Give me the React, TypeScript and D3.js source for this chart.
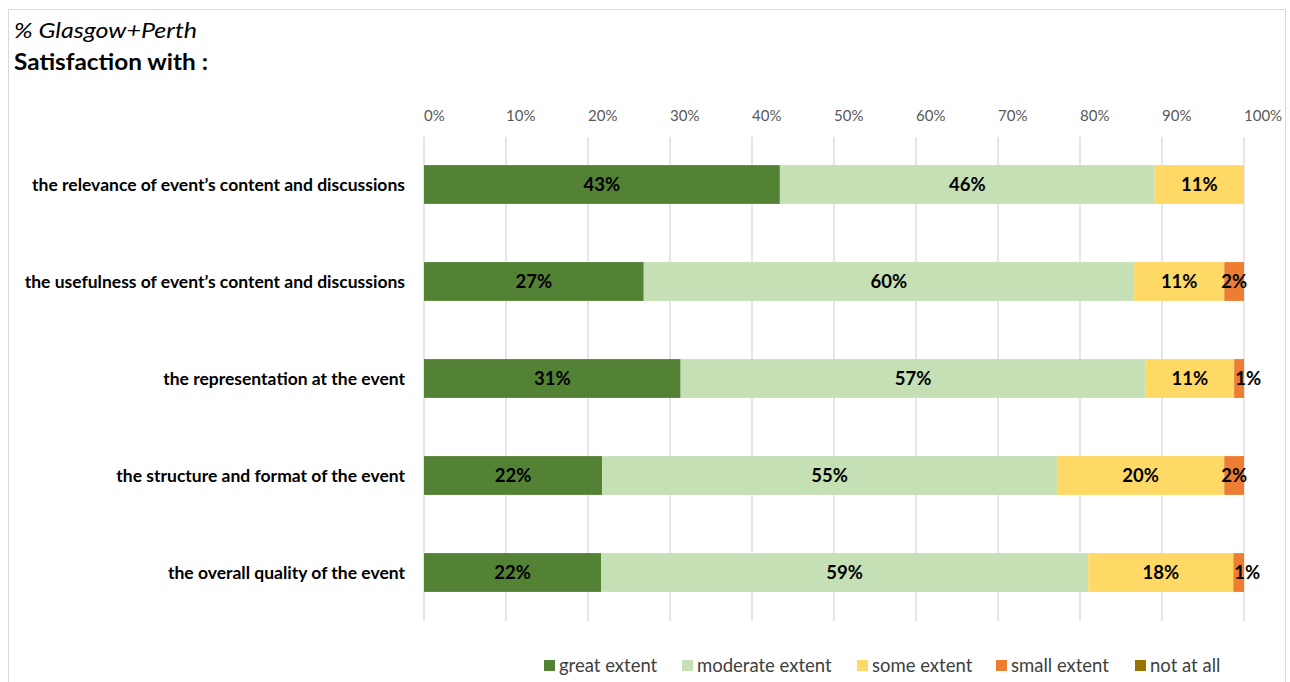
import React from "react";
import * as d3 from "d3";

const categories = [
  "the relevance of event\u2019s content and discussions",
  "the usefulness of event\u2019s content and discussions",
  "the representation at the event",
  "the structure and format of the event",
  "the overall quality of the event",
];
const seriesNames = ["great extent", "moderate extent", "some extent", "small extent", "not at all"];
const greatExtent = [43.4, 26.8, 31.3, 21.7, 21.6];
const moderateExtent = [45.7, 59.8, 56.7, 55.4, 59.4];
const someExtent = [10.9, 11.0, 10.8, 20.4, 17.7];
const smallExtent = [0, 2.4, 1.2, 2.4, 1.3];
const notAtAll = [0, 0, 0, 0, 0];
const tickValues = [0, 0.1, 0.2, 0.3, 0.4, 0.5, 0.6, 0.7, 0.8, 0.9, 1];
const colors = ["#548235", "#C5E0B4", "#FFD966", "#ED7D31", "#997300"];

const FONT = "Lato, 'Open Sans', sans-serif";

export default function App() {
  const W = 1290, H = 682;
  const x = d3.scaleLinear().domain([0, 1]).range([424, 1244]);
  const y = d3.scaleBand().domain(categories).range([136, 621]).paddingInner(0.6).paddingOuter(0.3);
  const seriesValues = [greatExtent, moderateExtent, someExtent, smallExtent, notAtAll];
  const rows = categories.map((c, i) => {
    const vals = seriesValues.map((s) => s[i]);
    const total = d3.sum(vals);
    const obj: any = { cat: c };
    seriesNames.forEach((n, k) => (obj[n] = vals[k] / total));
    return obj;
  });
  const stacked = d3.stack().keys(seriesNames)(rows);
  const legendX = [544, 682, 857, 996, 1135];

  return (
    <svg width={W} height={H} style={{ position: "absolute", left: 0, top: 0, background: "#fff" }}>
      <rect x={8.5} y={9.5} width={1277} height={H} fill="#fff" stroke="#d9d9d9" />
      <text x={14} y={38} fontFamily={FONT} fontStyle="italic" fontSize={22} fill="#000" textLength={183} lengthAdjust="spacingAndGlyphs">% Glasgow+Perth</text>
      <text x={14} y={70} fontFamily={FONT} fontWeight="bold" fontSize={23.5} fill="#000" textLength={194} lengthAdjust="spacingAndGlyphs">Satisfaction with :</text>
      {tickValues.map((t) => (
        <g key={t}>
          <line x1={x(t)} x2={x(t)} y1={137} y2={621} stroke="#d9d9d9" strokeWidth={1.3} />
          <text x={x(t)} y={121} textAnchor="start" fontFamily={FONT} fontSize={15} fill="#595959">
            {d3.format(".0%")(t)}
          </text>
        </g>
      ))}
      {categories.map((c) => (
        <text key={c} x={405} y={(y(c) as number) + y.bandwidth() / 2 + 6} textAnchor="end" fontFamily={FONT} fontWeight="bold" fontSize={17.5} fill="#000">
          {c}
        </text>
      ))}
      {stacked.map((s, k) => (
        <g key={s.key}>
          {s.map((d, i) => {
            const x0 = x(d[0]), x1 = x(d[1]);
            const w = x1 - x0;
            if (w <= 0) return null;
            const v = seriesValues[k][i];
            const yy = y(categories[i]) as number;
            const small = w < 14;
            return (
              <g key={i}>
                <rect x={x0} y={yy} width={w} height={y.bandwidth()} fill={colors[k]} />
                <text
                  x={small ? x0 + 1 : (x0 + x1) / 2}
                  y={yy + y.bandwidth() / 2 + 6.5}
                  textAnchor={small ? "start" : "middle"}
                  fontFamily={FONT}
                  fontWeight="bold"
                  fontSize={18.5}
                  fill="#000"
                >
                  {Math.round(v)}%
                </text>
              </g>
            );
          })}
        </g>
      ))}
      {seriesNames.map((n, k) => (
        <g key={n}>
          <rect x={legendX[k]} y={660} width={11} height={11} fill={colors[k]} />
          <text x={legendX[k] + 15} y={672} fontFamily={FONT} fontSize={18.5} fill="#404040">{n}</text>
        </g>
      ))}
    </svg>
  );
}
